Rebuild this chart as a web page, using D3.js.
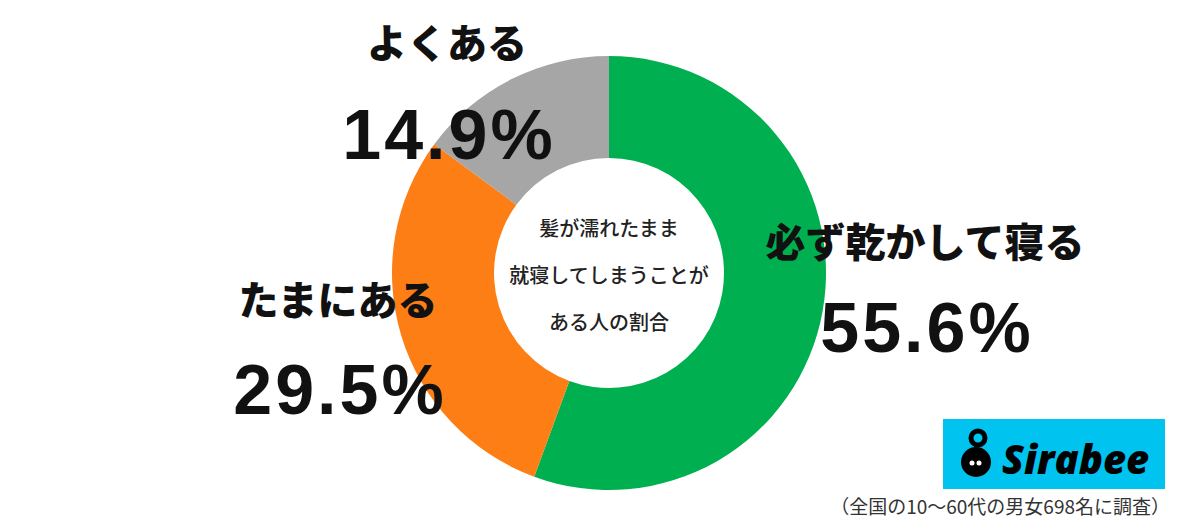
<!DOCTYPE html>
<html><head><meta charset="utf-8">
<script src="https://cdn.jsdelivr.net/npm/d3@7"></script>
<style>body{margin:0;background:#fff}svg{display:block}</style>
</head><body>
<svg id="c" width="1200" height="522"></svg>
<script>
const labels = ["必ず乾かして寝る", "たまにある", "よくある"];
const values = [55.6, 29.5, 14.9];
const colors = ["#00b050", "#fd7e14", "#a6a6a6"];
const centerLines = ["髪が濡れたまま", "就寝してしまうことが", "ある人の割合"];

const svg = d3.select("#c");
const font = "'Noto Sans CJK JP', sans-serif";
const cx = 609, cy = 273;

const pie = d3.pie().sort(null).value(d => d)(values);
const arc = d3.arc().innerRadius(115).outerRadius(217);
svg.append("g").attr("transform", `translate(${cx},${cy})`)
  .selectAll("path").data(pie).join("path")
  .attr("d", arc).attr("fill", (d, i) => colors[i]);

// center text
svg.append("g").selectAll("text").data(centerLines).join("text")
  .attr("x", cx).attr("y", (d, i) => 236 + i * 47)
  .attr("text-anchor", "middle").attr("font-family", font)
  .attr("font-size", 20).attr("font-weight", 500).attr("fill", "#222")
  .text(d => d);

// slice labels
const labelPos = [
  { x: 925, y: 257, px: 925, py: 352 },
  { x: 338, y: 315, px: 338, py: 414 },
  { x: 447, y: 58, px: 447, py: 159 }
];
labels.forEach((l, i) => {
  const p = labelPos[i];
  svg.append("text").attr("x", p.x).attr("y", p.y).attr("text-anchor", "middle")
    .attr("font-family", font).attr("font-weight", 900).attr("font-size", 40)
    .attr("fill", "#111").text(l);
  svg.append("text").attr("x", p.px + 2).attr("y", p.py).attr("text-anchor", "middle")
    .attr("font-family", "'Liberation Sans', Arial, sans-serif").attr("font-weight", 700)
    .attr("font-size", 70).attr("letter-spacing", 3).attr("fill", "#111").text(values[i].toFixed(1) + "%");
});

// logo
const lg = svg.append("g");
lg.append("rect").attr("x", 943).attr("y", 419).attr("width", 222).attr("height", 70).attr("fill", "#00c3ef");
lg.append("circle").attr("cx", 976).attr("cy", 462).attr("r", 15).attr("fill", "#000");
lg.append("circle").attr("cx", 978).attr("cy", 438).attr("r", 7).attr("fill", "none").attr("stroke", "#000").attr("stroke-width", 5);
lg.append("circle").attr("cx", 972).attr("cy", 463).attr("r", 2.5).attr("fill", "#fff");
lg.append("circle").attr("cx", 979).attr("cy", 463).attr("r", 2.5).attr("fill", "#fff");
lg.append("text").attr("x", 1002).attr("y", 474).attr("font-family", "'Open Sans', sans-serif")
  .attr("font-style", "italic").attr("font-weight", 800).attr("font-size", 40).attr("fill", "#000").text("Sirabee");

svg.append("text").attr("x", 1170).attr("y", 514).attr("text-anchor", "end")
  .attr("font-family", font).attr("font-size", 19).attr("fill", "#333")
  .text("（全国の10〜60代の男女698名に調査）");
</script>
</body></html>
